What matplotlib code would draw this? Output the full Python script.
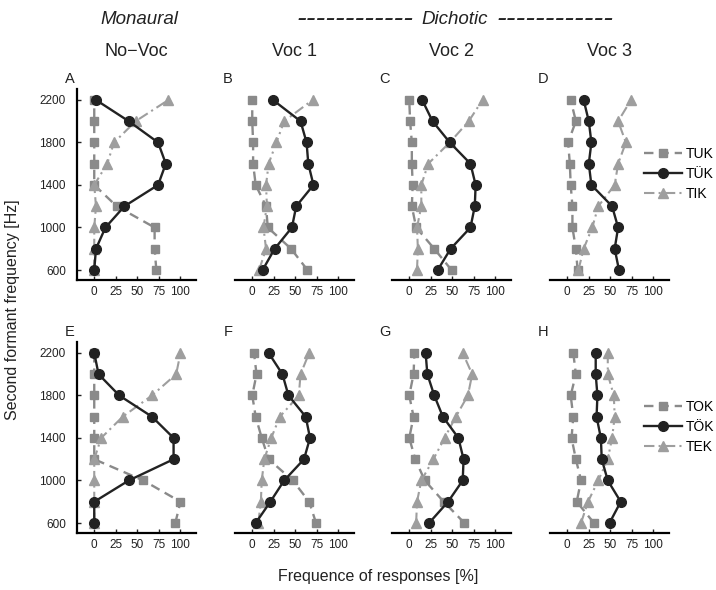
import matplotlib
matplotlib.use("Agg")
import matplotlib.pyplot as plt

plt.rcParams['font.family'] = ['Liberation Sans', 'DejaVu Sans']

# formant frequencies, bottom to top
freqs = [600, 800, 1000, 1200, 1400, 1600, 1800, 2000, 2200]
xticks = [0, 25, 50, 75, 100]
yticks = [600, 1000, 1400, 1800, 2200]

col_titles = ['No\u2212Voc', 'Voc 1', 'Voc 2', 'Voc 3']
panel_letters = [['A', 'B', 'C', 'D'], ['E', 'F', 'G', 'H']]
row_labels = [['TUK', 'TÜK', 'TIK'], ['TOK', 'TÖK', 'TEK']]

# row 1: TUK / TÜK / TIK
tuk_a = [72, 70, 70, 26, 0, 0, 0, 0, 0]
tuek_a = [0, 2, 13, 35, 74, 83, 74, 40, 2]
tik_a = [0, 0, 0, 2, 0, 15, 23, 48, 86]

tuk_b = [64, 45, 18, 16, 4, 1, 1, 0, 0]
tuek_b = [12, 26, 46, 51, 71, 65, 63, 56, 24]
tik_b = [8, 16, 13, 17, 16, 19, 28, 37, 70]

tuk_c = [49, 29, 8, 3, 4, 3, 3, 1, 0]
tuek_c = [33, 48, 71, 76, 77, 71, 47, 27, 15]
tik_c = [9, 10, 9, 14, 14, 22, 47, 69, 85]

tuk_d = [12, 10, 6, 6, 4, 3, 1, 10, 4]
tuek_d = [60, 55, 59, 52, 28, 25, 28, 25, 19]
tik_d = [13, 19, 29, 36, 55, 59, 68, 59, 74]

# row 2: TOK / TÖK / TEK
tok_e = [94, 100, 57, 0, 0, 0, 0, 0, 0]
toek_e = [0, 0, 40, 92, 92, 67, 29, 5, 0]
tek_e = [0, 0, 0, 0, 8, 33, 67, 95, 100]

tok_f = [74, 66, 47, 19, 11, 4, 0, 5, 2]
toek_f = [4, 21, 37, 60, 67, 62, 42, 35, 19]
tek_f = [7, 10, 11, 14, 22, 32, 54, 56, 66]

tok_g = [64, 40, 18, 7, 0, 5, 0, 5, 6]
toek_g = [23, 45, 62, 63, 57, 39, 29, 21, 19]
tek_g = [8, 9, 14, 28, 41, 54, 68, 73, 62]

tok_h = [31, 11, 16, 10, 5, 7, 4, 10, 7]
toek_h = [49, 62, 47, 40, 39, 34, 35, 33, 33]
tek_h = [16, 24, 36, 47, 52, 55, 54, 47, 47]

data = [
    [(tuk_a, tuek_a, tik_a), (tuk_b, tuek_b, tik_b),
     (tuk_c, tuek_c, tik_c), (tuk_d, tuek_d, tik_d)],
    [(tok_e, toek_e, tek_e), (tok_f, toek_f, tek_f),
     (tok_g, toek_g, tek_g), (tok_h, toek_h, tek_h)],
]

W, H = 716, 590
fig = plt.figure(figsize=(W / 100, H / 100), dpi=100)

sq_col = '#8a8a8a'
tri_col = '#9e9e9e'
dark = '#222222'

styles = [
    dict(color=sq_col, linestyle=(0, (4, 2.5)), marker='s', markersize=5.5, lw=1.7, zorder=2),
    dict(color=dark, linestyle='-', marker='o', markersize=7, lw=1.7, zorder=4),
    dict(color=tri_col, linestyle=(0, (5, 2, 1, 2)), marker='^', markersize=7, lw=1.5, zorder=3),
]

lefts = [77, 235, 392, 550]
bottoms = [280, 533]  # pixel y of x axis from top
ax_w, ax_h = 119, 191

for r in range(2):
    for c in range(4):
        ax = fig.add_axes([lefts[c] / W, (H - bottoms[r]) / H, ax_w / W, ax_h / H])
        series = data[r][c]
        handles = []
        for vals, st, lab in zip(series, styles, row_labels[r]):
            h, = ax.plot(vals, freqs, label=lab, **st)
            handles.append(h)
        ax.set_xlim(-20, 118)
        ax.set_ylim(506, 2303)
        ax.set_xticks(xticks)
        for s in ['top', 'right']:
            ax.spines[s].set_visible(False)
        ax.spines['bottom'].set_linewidth(1.6)
        ax.tick_params(axis='x', direction='in', length=3, width=1, pad=4, labelsize=8.5, colors='#222222')
        if c == 0:
            ax.set_yticks(yticks)
            ax.spines['left'].set_linewidth(1.6)
            ax.tick_params(axis='y', direction='in', length=3, width=1, pad=8, labelsize=8.5, colors='#222222')
        else:
            ax.spines['left'].set_visible(False)
            ax.set_yticks([])
        ax.text(-0.06, 1.05, panel_letters[r][c], transform=ax.transAxes,
                ha='center', va='center', fontsize=10.5, color='#222222')
        if r == 0:
            ax.text(0.5, 1.0 + (89 - 52) / ax_h, col_titles[c], transform=ax.transAxes,
                    ha='center', va='center', fontsize=13, color='#222222')
        if c == 3:
            ycen = [174, 427][r]
            fig.legend(handles=handles, loc='center left',
                       bbox_to_anchor=(644 / W, 1 - ycen / H), frameon=False,
                       fontsize=10, handlelength=2.7, handletextpad=0.3,
                       labelspacing=0.42, borderpad=0, borderaxespad=0)

# group headers
fig.text(139 / W, 1 - 24 / H, 'Monaural', ha='center', va='baseline',
         fontsize=13.5, style='italic', color='#222222')
fig.text(455 / W, 1 - 24 / H, 'Dichotic', ha='center', va='baseline',
         fontsize=13.5, style='italic', color='#222222')
fig.text(413 / W, 1 - 27 / H, '------------', ha='right', va='baseline',
         fontsize=21, style='italic', color='#222222')
fig.text(497 / W, 1 - 27 / H, '------------', ha='left', va='baseline',
         fontsize=21, style='italic', color='#222222')

fig.text(13 / W, 1 - 310 / H, 'Second formant frequency [Hz]', ha='center', va='center',
         rotation=90, fontsize=11.5, color='#222222')
fig.text(378 / W, 1 - 577 / H, 'Frequence of responses [%]', ha='center', va='center',
         fontsize=11.5, color='#222222')

fig.savefig('out.png', dpi=100, facecolor='white')
